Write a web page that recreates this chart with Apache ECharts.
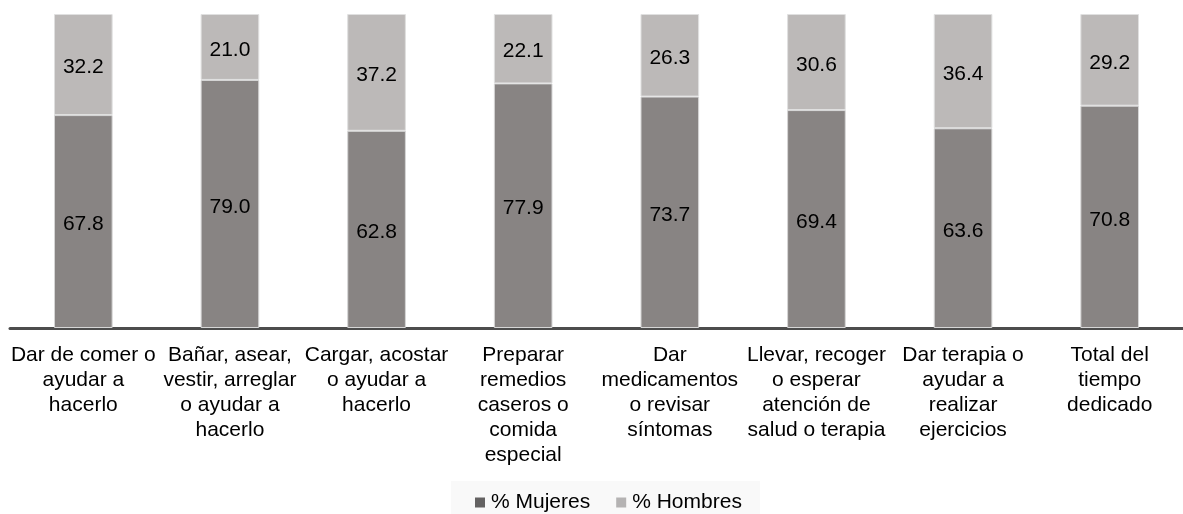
<!DOCTYPE html>
<html>
<head>
<meta charset="utf-8">
<script src="https://cdn.jsdelivr.net/npm/echarts@6/dist/echarts.min.js"></script>
<style>
  * { margin: 0; padding: 0; }
  html, body { background: #fff; }
  #chart { width: 1183px; height: 514px; }
</style>
</head>
<body>
<div id="chart"></div>
<script>
// categorias y porcentajes
const categorias = [
  'Dar de comer o\nayudar a\nhacerlo',
  'Bañar, asear,\nvestir, arreglar\no ayudar a\nhacerlo',
  'Cargar, acostar\no ayudar a\nhacerlo',
  'Preparar\nremedios\ncaseros o\ncomida\nespecial',
  'Dar\nmedicamentos\no revisar\nsíntomas',
  'Llevar, recoger\no esperar\natención de\nsalud o terapia',
  'Dar terapia o\nayudar a\nrealizar\nejercicios',
  'Total del\ntiempo\ndedicado'
]
const mujeres = [67.8, 79.0, 62.8, 77.9, 73.7, 69.4, 63.6, 70.8]
const hombres = [32.2, 21.0, 37.2, 22.1, 26.3, 30.6, 36.4, 29.2]

const chart = echarts.init(document.getElementById('chart'))

const etiqueta = {
  show: true,
  position: 'inside',
  offset: [0, 3],
  color: '#000',
  fontFamily: 'Liberation Sans, Arial',
  fontSize: 21,
  formatter: p => p.value.toFixed(1)
}

chart.setOption({
  animation: false,
  textStyle: { fontFamily: 'Liberation Sans, Arial' },
  grid: { left: 10, right: -15, top: 14, bottom: 186 },
  legend: {
    bottom: 0,
    left: 451,
    icon: 'rect',
    itemWidth: 10,
    itemHeight: 10,
    itemGap: 26,
    padding: [11, 18, 1, 24],
    backgroundColor: '#f9f9f9',
    textStyle: { fontSize: 21, color: '#000', padding: [0, 0, 0, 1] },
    data: [
      { name: '% Mujeres', itemStyle: { color: '#646262', borderWidth: 0 } },
      { name: '% Hombres', itemStyle: { color: '#b5b3b3', borderWidth: 0 } }
    ]
  },
  xAxis: {
    type: 'category',
    data: categorias,
    axisLine: { lineStyle: { color: '#4d4d4d', width: 3 } },
    axisTick: { show: false },
    axisLabel: {
      interval: 0,
      color: '#000',
      fontSize: 21,
      lineHeight: 25,
      margin: 15,
      verticalAlign: 'top'
    }
  },
  yAxis: {
    type: 'value',
    min: 0,
    max: 100,
    show: false
  },
  series: [
    {
      name: '% Mujeres',
      type: 'bar',
      stack: 'total',
      barWidth: '40%',
      data: mujeres,
      itemStyle: { color: '#888483', borderColor: '#d6d6d6', borderWidth: 1 },
      label: etiqueta
    },
    {
      name: '% Hombres',
      type: 'bar',
      stack: 'total',
      data: hombres,
      itemStyle: { color: '#bcb9b8', borderColor: '#e0e0e0', borderWidth: 1 },
      label: etiqueta
    }
  ]
})
</script>
</body>
</html>
